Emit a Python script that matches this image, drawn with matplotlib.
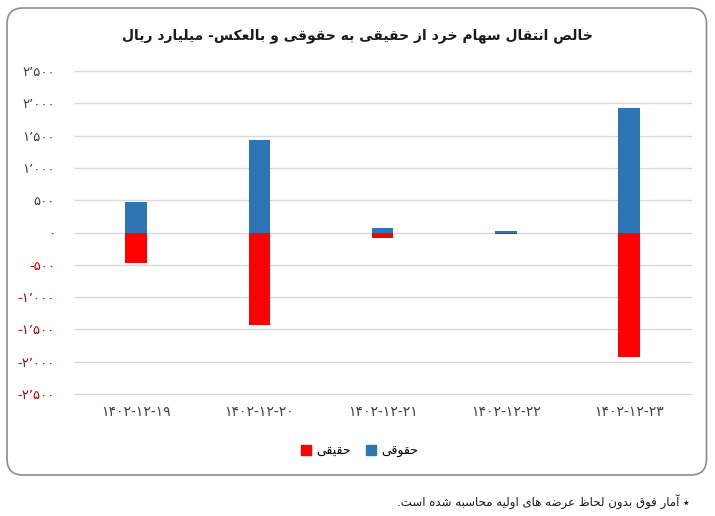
import matplotlib
matplotlib.use('Agg')
import matplotlib.pyplot as plt
from matplotlib.patches import FancyBboxPatch, Patch
from matplotlib.ticker import FuncFormatter

dates = ['۱۴۰۲-۱۲-۱۹', '۱۴۰۲-۱۲-۲۰', '۱۴۰۲-۱۲-۲۱', '۱۴۰۲-۱۲-۲۲', '۱۴۰۲-۱۲-۲۳']
hoghooghi = [470, 1425, 75, 20, 1935]
haghighi = [-470, -1425, -80, -25, -1930]
yticks = [-2500, -2000, -1500, -1000, -500, 0, 500, 1000, 1500, 2000, 2500]

title = 'خالص انتقال سهام خرد از حقیقی به حقوقی و بالعکس- میلیارد ریال'
label_haghighi = 'حقیقی'
label_hoghooghi = 'حقوقی'
footnote = '٭ آمار فوق بدون لحاظ عرضه های اولیه محاسبه شده است.'

BLUE = '#2e75b6'
RED = '#ff0000'

# presentation forms: isolated, final, initial, medial
FORMS = {
    'ا': 'ﺍﺎ', 'آ': 'ﺁﺂ', 'د': 'ﺩﺪ', 'ذ': 'ﺫﺬ', 'ر': 'ﺭﺮ', 'ز': 'ﺯﺰ',
    'و': 'ﻭﻮ', 'ژ': 'ﮊﮋ',
    'ب': 'ﺏﺐﺑﺒ', 'ت': 'ﺕﺖﺗﺘ', 'ث': 'ﺙﺚﺛﺜ', 'ج': 'ﺝﺞﺟﺠ', 'ح': 'ﺡﺢﺣﺤ',
    'خ': 'ﺥﺦﺧﺨ', 'س': 'ﺱﺲﺳﺴ', 'ش': 'ﺵﺶﺷﺸ', 'ص': 'ﺹﺺﺻﺼ', 'ض': 'ﺽﺾﺿﻀ',
    'ط': 'ﻁﻂﻃﻄ', 'ظ': 'ﻅﻆﻇﻈ', 'ع': 'ﻉﻊﻋﻌ', 'غ': 'ﻍﻎﻏﻐ', 'ف': 'ﻑﻒﻓﻔ',
    'ق': 'ﻕﻖﻗﻘ', 'ک': 'ﮎﮏﮐﮑ', 'گ': 'ﮒﮓﮔﮕ', 'ل': 'ﻝﻞﻟﻠ', 'م': 'ﻡﻢﻣﻤ',
    'ن': 'ﻥﻦﻧﻨ', 'ه': 'ﻩﻪﻫﻬ', 'ی': 'ﯼﯽﯾﯿ', 'پ': 'ﭖﭗﭘﭙ', 'چ': 'ﭺﭻﭼﭽ',
}


def rtl(text):
    '''Joins Persian letters and reverses them for left-to-right drawing'''
    out = []
    for i, c in enumerate(text):
        if c not in FORMS:
            out.append(c)
            continue
        prev = text[i - 1] if i > 0 else None
        nxt = text[i + 1] if i + 1 < len(text) else None
        forms = FORMS[c]
        join_prev = prev in FORMS and len(FORMS[prev]) == 4
        join_next = len(forms) == 4 and nxt in FORMS
        if join_prev and join_next:
            out.append(forms[3])
        elif join_prev:
            out.append(forms[1])
        elif join_next:
            out.append(forms[2])
        else:
            out.append(forms[0])
    return ''.join(reversed(out))


def fa_number(v, pos=None):
    digits = str.maketrans('0123456789', '۰۱۲۳۴۵۶۷۸۹')
    s = f'{abs(int(v)):,}'.replace(',', '٬').translate(digits)
    return ('-' if v < 0 else '') + s


plt.rcParams['font.family'] = ['DejaVu Sans']

fig = plt.figure(figsize=(7.15, 5.16), dpi=100)
fig.patch.set_facecolor('white')

box = FancyBboxPatch((0.07, 0.41), 6.995, 4.67,
                     boxstyle='round,pad=0,rounding_size=0.16',
                     transform=fig.dpi_scale_trans, facecolor='none',
                     edgecolor='#8c8c8c', linewidth=1.2, zorder=-1)
fig.patches.append(box)

ax = fig.add_axes([0.1042, 0.2364, 0.8618, 0.626])
x = range(len(dates))
ax.bar(x, hoghooghi, width=0.175, color=BLUE, zorder=3)
ax.bar(x, haghighi, width=0.175, color=RED, zorder=3)

ax.set_xlim(-0.5, len(dates) - 0.5)
ax.set_ylim(-2500, 2500)
ax.set_yticks(yticks)
ax.yaxis.set_major_formatter(FuncFormatter(fa_number))
ax.set_xticks(list(x))
ax.set_xticklabels(dates, fontsize=10, color='#404040')
ax.tick_params(axis='both', length=0)
ax.tick_params(axis='y', labelsize=9.5, pad=14)
ax.tick_params(axis='x', pad=8)
for lbl, v in zip(ax.get_yticklabels(), yticks):
    lbl.set_color('#c00000' if v < 0 else '#404040')
ax.grid(axis='y', color='#d9d9d9', linewidth=1, zorder=0)
for line in ax.get_ygridlines():
    line.set_clip_on(False)
for s in ax.spines.values():
    s.set_visible(False)
ax.set_facecolor('none')

fig.text(0.5, 0.932, rtl(title), ha='center', va='center',
         fontsize=10, fontweight='bold', color='#1a1a1a')

handles = [Patch(color=RED, label=rtl(label_haghighi)),
           Patch(color=BLUE, label=rtl(label_hoghooghi))]
fig.legend(handles=handles, loc='center', bbox_to_anchor=(0.503, 0.126),
           ncol=2, frameon=False, fontsize=9, handlelength=0.8,
           handleheight=0.8, handletextpad=0.4, columnspacing=1.2)

fig.text(0.965, 0.027, rtl(footnote), ha='right', va='center',
         fontsize=8.5, color='#1a1a1a')

fig.savefig('out.png', dpi=100)
